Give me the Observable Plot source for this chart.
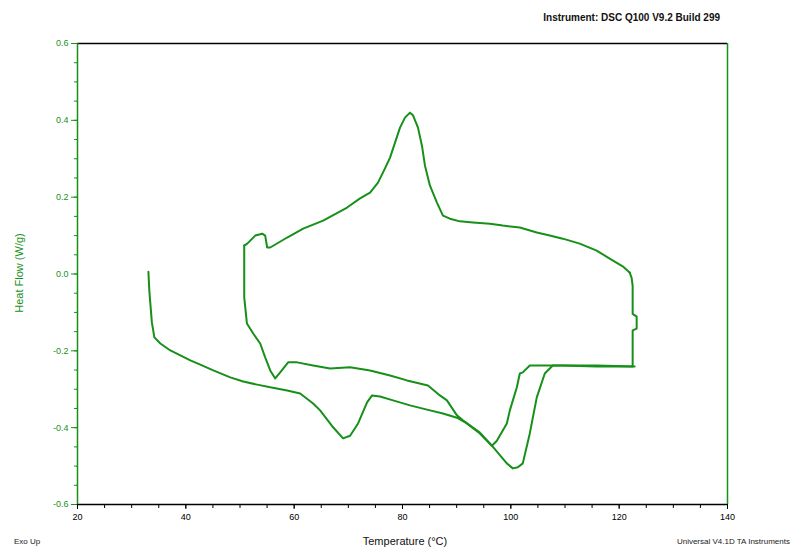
<!DOCTYPE html>
<html>
<head>
<meta charset="utf-8">
<script src="https://cdn.jsdelivr.net/npm/d3@7"></script>
<script src="https://cdn.jsdelivr.net/npm/@observablehq/plot@0.6"></script>
<style>
  html, body { margin: 0; padding: 0; background: #fff; }
  #chart svg { display: block; }
</style>
</head>
<body>
<div id="chart"></div>
<script>
// ---- data ----
const xTicks = [20, 40, 60, 80, 100, 120, 140];
const yTicks = [-0.6, -0.4, -0.2, 0.0, 0.2, 0.4, 0.6];

// first heating
const heat1Temp = [33.09, 33.27, 33.73, 34.19, 35.30, 37.14, 38.99, 40.83, 42.67, 45.07, 48.20, 50.60, 53.18, 55.58, 58.71, 61.11, 63.50, 64.79, 67.19, 69.03, 70.32, 71.80, 73.46, 74.38, 75.85, 78.25, 81.38, 84.52, 87.47, 90.05, 91.89, 94.29, 96.50, 99.26, 100.37, 101.29, 102.21, 103.50, 104.79, 106.27, 107.74, 109.59, 115.85, 122.49, 122.49, 123.23, 123.23, 122.49, 122.49, 122.30, 121.93];
const heat1Flow = [0.006, -0.046, -0.126, -0.165, -0.181, -0.199, -0.212, -0.225, -0.236, -0.251, -0.269, -0.280, -0.288, -0.295, -0.303, -0.311, -0.337, -0.355, -0.399, -0.428, -0.421, -0.389, -0.334, -0.316, -0.319, -0.329, -0.342, -0.353, -0.363, -0.374, -0.389, -0.415, -0.447, -0.493, -0.506, -0.503, -0.493, -0.415, -0.321, -0.259, -0.238, -0.238, -0.241, -0.241, -0.147, -0.142, -0.111, -0.104, -0.031, -0.010, 0.004];

// cooling
const coolTemp = [121.93, 120.65, 118.25, 115.85, 112.72, 109.59, 107.19, 104.79, 101.66, 98.53, 96.13, 93.00, 90.60, 88.76, 87.47, 86.36, 85.07, 84.15, 83.59, 82.86, 81.94, 81.38, 80.46, 79.54, 78.62, 77.70, 76.77, 75.48, 74.01, 72.17, 69.77, 65.35, 61.66, 58.71, 55.58, 55.02, 54.65, 54.10, 52.81, 51.34, 50.78];
const coolFlow = [0.004, 0.020, 0.040, 0.061, 0.079, 0.092, 0.100, 0.108, 0.121, 0.126, 0.131, 0.134, 0.137, 0.144, 0.152, 0.186, 0.230, 0.282, 0.334, 0.381, 0.413, 0.420, 0.407, 0.381, 0.342, 0.303, 0.275, 0.238, 0.212, 0.197, 0.173, 0.139, 0.118, 0.095, 0.069, 0.069, 0.100, 0.105, 0.100, 0.079, 0.074];

// second heating
const heat2Temp = [50.78, 50.78, 51.28, 52.44, 53.73, 54.65, 55.58, 56.50, 57.42, 58.89, 60.55, 63.50, 66.64, 70.32, 74.01, 77.70, 80.83, 84.70, 86.91, 88.20, 90.05, 91.15, 94.29, 96.50, 97.42, 99.26, 99.82, 101.11, 101.66, 102.21, 103.50, 106.64, 115.85, 122.86];
const heat2Flow = [0.074, -0.061, -0.129, -0.155, -0.181, -0.217, -0.251, -0.272, -0.256, -0.230, -0.230, -0.238, -0.246, -0.243, -0.251, -0.264, -0.277, -0.290, -0.316, -0.329, -0.368, -0.381, -0.413, -0.447, -0.434, -0.389, -0.355, -0.295, -0.259, -0.256, -0.238, -0.238, -0.238, -0.241];

const green = "#17901a";
const toRows = (t, f) => t.map((x, i) => ({temp: x, flow: f[i]}));
const heat1 = toRows(heat1Temp, heat1Flow);
const cool = toRows(coolTemp, coolFlow);
const heat2 = toRows(heat2Temp, heat2Flow);

const plot = Plot.plot({
  width: 791,
  height: 548,
  marginLeft: 77,
  marginRight: 64,
  marginTop: 43,
  marginBottom: 44,
  style: {fontFamily: "'Liberation Sans', Arial, sans-serif", fontSize: "9px", background: "#fff"},
  x: {domain: [20, 140]},
  y: {domain: [-0.6, 0.6]},
  marks: [
    Plot.axisX({ticks: d3.range(20, 141, 5), tickSize: 4, tickFormat: () => "", label: null, stroke: "black"}),
    Plot.axisX({ticks: xTicks, tickSize: 5, tickPadding: 4, tickFormat: d => String(d), label: null, stroke: "black", fill: "black"}),
    Plot.axisY({ticks: d3.range(-12, 13, 1).map(d => d * 0.05), tickSize: 3, tickFormat: () => "", label: null, stroke: green}),
    Plot.axisY({ticks: yTicks, tickSize: 6, tickPadding: 3, tickFormat: d => d.toFixed(1), label: null, stroke: green, fill: green}),
    Plot.ruleY([0.6], {stroke: "black", strokeWidth: 1.5}),
    Plot.ruleY([-0.6], {stroke: "black", strokeWidth: 1.5}),
    Plot.ruleX([20], {stroke: green, strokeWidth: 1.5}),
    Plot.ruleX([140], {stroke: green, strokeWidth: 1.5}),
    Plot.line(heat1, {x: "temp", y: "flow", stroke: green, strokeWidth: 2, curve: "linear"}),
    Plot.line(cool, {x: "temp", y: "flow", stroke: green, strokeWidth: 2, curve: "linear"}),
    Plot.line(heat2, {x: "temp", y: "flow", stroke: green, strokeWidth: 2, curve: "linear"})
  ]
});

const svg = d3.select(plot);
const font = "'Liberation Sans', Arial, sans-serif";
svg.append("text").attr("x", 720).attr("y", 21).attr("text-anchor", "end")
  .attr("font-family", font).attr("font-size", 10).attr("font-weight", "bold").attr("fill", "#111")
  .text("Instrument: DSC Q100 V9.2 Build 299");
svg.append("text").attr("x", 27).attr("y", 544)
  .attr("font-family", font).attr("font-size", 8).attr("fill", "#222")
  .text("Exo Up");
svg.append("text").attr("x", 405).attr("y", 545).attr("text-anchor", "middle")
  .attr("font-family", font).attr("font-size", 11).attr("fill", "#111")
  .text("Temperature (°C)");
svg.append("text").attr("x", 790).attr("y", 544).attr("text-anchor", "end")
  .attr("font-family", font).attr("font-size", 8).attr("fill", "#222")
  .text("Universal V4.1D TA Instruments");
svg.append("text").attr("transform", "translate(23,273) rotate(-90)").attr("text-anchor", "middle")
  .attr("font-family", font).attr("font-size", 11).attr("fill", green)
  .text("Heat Flow (W/g)");

document.getElementById("chart").appendChild(plot);
</script>
</body>
</html>
